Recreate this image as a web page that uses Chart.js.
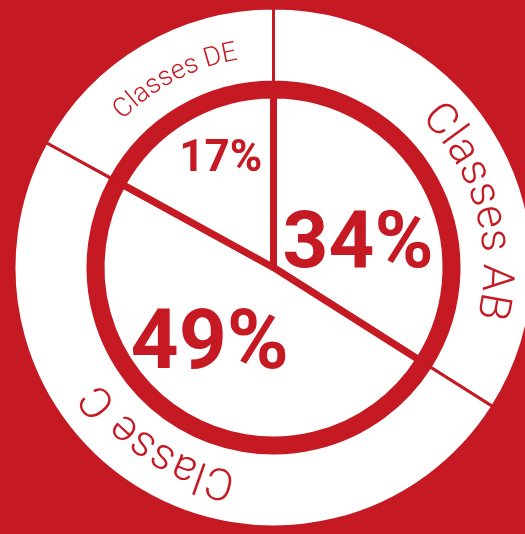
<!DOCTYPE html>
<html>
<head>
<meta charset="utf-8">
<script src="https://cdn.jsdelivr.net/npm/chart.js@4"></script>
<style>
  html, body { margin: 0; padding: 0; width: 525px; height: 534px; overflow: hidden; background: #c51923; }
  #wrap { position: absolute; left: 13.5px; top: 7.5px; width: 519px; height: 519px; }
</style>
</head>
<body>
<div id="wrap"><canvas id="pie"></canvas></div>
<script>
const categories = ['Classes AB', 'Classe C', 'Classes DE'];
const shares = [34, 49, 17];

const RED = '#c51923';
const WHITE = '#ffffff';

// text on a circle, clockwise, glyph tops pointing outward
function arcText(ctx, text, cx, cy, r, mid) {
    const total = ctx.measureText(text).width;
    const start = mid - total / 2 / r;
    for (let i = 0; i < text.length; i++) {
        const before = ctx.measureText(text.slice(0, i)).width;
        const w = ctx.measureText(text[i]).width;
        const a = start + (before + w / 2) / r;
        ctx.save();
        ctx.translate(cx, cy);
        ctx.rotate(a);
        ctx.fillText(text[i], 0, -r);
        ctx.restore();
    }
}

const labelPlugin = {
    id: 'labels',
    afterDraw(chart, args, opts) {
        const ctx = chart.ctx;
        const arcs = chart.getDatasetMeta(2).data;
        const cx = arcs[0].x, cy = arcs[0].y;
        ctx.save();
        ctx.fillStyle = RED;
        ctx.textAlign = 'center';
        arcs.forEach((arc, i) => {
            // angle measured clockwise from 12 o'clock
            const mid = (arc.startAngle + arc.endAngle) / 2 + Math.PI / 2;
            const ring = opts.ring[i];
            ctx.textBaseline = 'alphabetic';
            ctx.font = '300 ' + ring.size + 'px Roboto, "Open Sans", sans-serif';
            arcText(ctx, categories[i], cx, cy, ring.r, mid + ring.shift * Math.PI / 180);

            const pct = opts.pct[i];
            const a = mid + pct.shift * Math.PI / 180;
            ctx.textBaseline = 'middle';
            ctx.font = 'bold ' + pct.size + 'px Roboto, sans-serif';
            ctx.fillText(shares[i] + '%', cx + pct.r * Math.sin(a), cy - pct.r * Math.cos(a));
        });
        ctx.restore();
    }
};

new Chart(document.getElementById('pie'), {
    type: 'doughnut',
    data: {
        labels: categories,
        datasets: [
            { data: shares, weight: 74, backgroundColor: WHITE, borderColor: RED, borderWidth: 3 },
            { data: shares, weight: 13, backgroundColor: RED, borderColor: RED, borderWidth: 0 },
            { data: shares, weight: 172.5, backgroundColor: WHITE, borderColor: RED, borderWidth: 7 }
        ]
    },
    options: {
        responsive: true,
        maintainAspectRatio: false,
        animation: false,
        events: [],
        cutout: 0,
        radius: 259.5,
        layout: { padding: 0 },
        plugins: {
            legend: { display: false },
            tooltip: { enabled: false },
            labels: {
                ring: [
                    { r: 210, size: 44, shift: 13 },
                    { r: 208, size: 44, shift: 2.8 },
                    { r: 211, size: 27, shift: 3 }
                ],
                pct: [
                    { r: 87, size: 80, shift: 15.2 },
                    { r: 102, size: 84, shift: 8.1 },
                    { r: 120, size: 44, shift: 4.5 }
                ]
            }
        }
    },
    plugins: [labelPlugin]
});
</script>
</body>
</html>
